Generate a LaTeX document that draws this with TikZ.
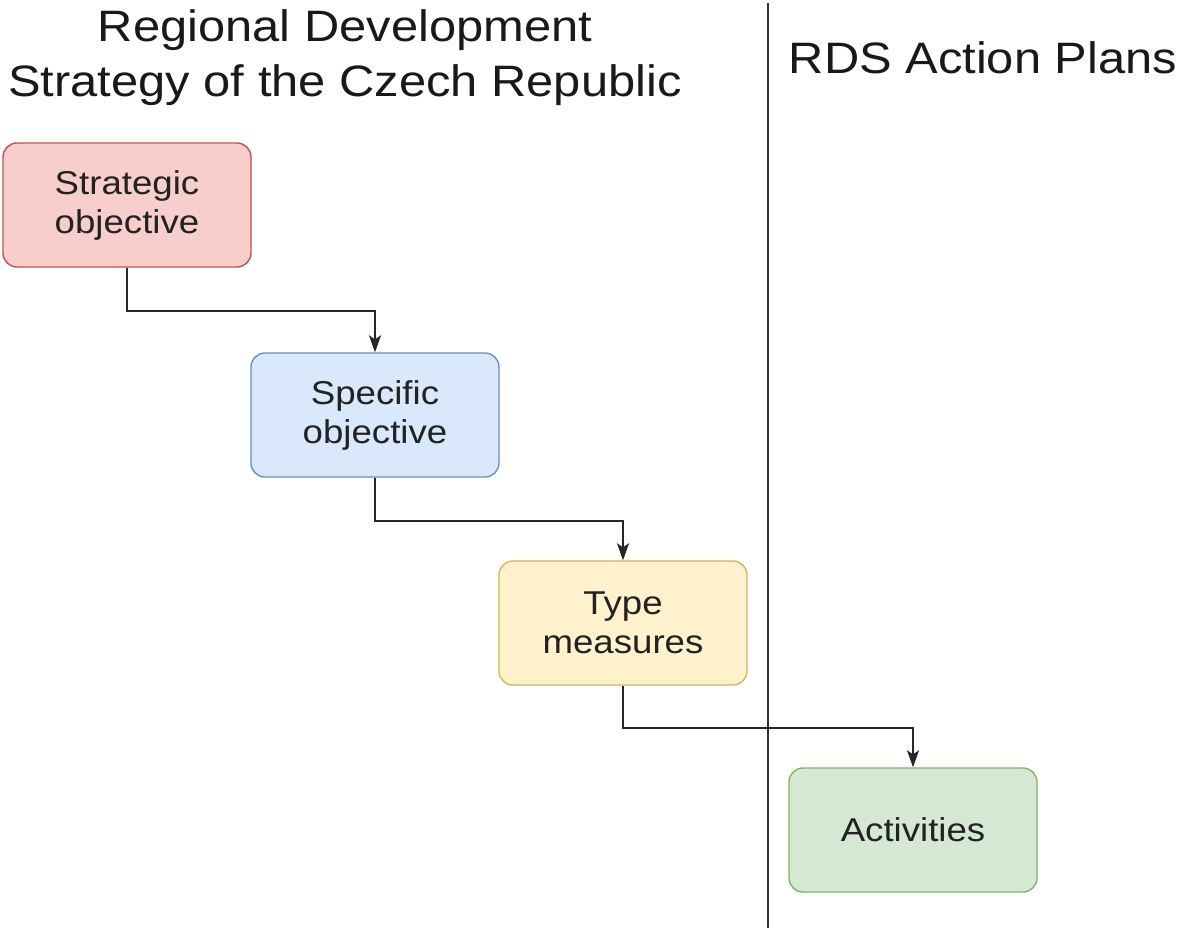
\documentclass[tikz,border=0pt]{standalone}
\usepackage{fontspec}
\setmainfont{Liberation Sans}[FakeStretch=1.11]
\usetikzlibrary{arrows.meta}
\definecolor{redfill}{HTML}{F8CECC}\definecolor{redline}{HTML}{B85450}
\definecolor{bluefill}{HTML}{DAE8FC}\definecolor{blueline}{HTML}{6C8EBF}
\definecolor{yellowfill}{HTML}{FFF2CC}\definecolor{yellowline}{HTML}{D6B656}
\definecolor{greenfill}{HTML}{D5E8D4}\definecolor{greenline}{HTML}{82B366}
\definecolor{ink}{HTML}{222222}
\begin{document}
\begin{tikzpicture}[x=1pt,y=-1pt,
  box/.style={draw, rounded corners=14pt, line width=1.4pt, minimum width=248pt,
    minimum height=124pt, align=center, text=ink, inner sep=0pt,
    font=\fontsize{33}{39}\selectfont},
  heading/.style={align=center, text=black!90, inner sep=0pt,
    font=\fontsize{44}{55}\selectfont},
  link/.style={draw=black!85, line width=1.7pt, -{Stealth[length=17pt,width=12pt,inset=4pt]}},
  divider/.style={draw=black!80, line width=1.4pt}]
\useasboundingbox (0,0) rectangle (1180,931);

% column headings
\node[heading] (hleft) at (345,58) {Regional Development\\Strategy of the Czech Republic};
\node[heading] (hright) at (983,58) {RDS Action Plans};

% column divider
\coordinate (dtop) at (768,3);
\coordinate (dbot) at (768,928);
\draw[divider] (dtop) -- (dbot);

% hierarchy boxes
\node[box, fill=redfill, draw=redline] (strat) at (127,205) {Strategic\\objective};
\node[box, fill=bluefill, draw=blueline] (spec) at (375,415) {Specific\\objective};
\node[box, fill=yellowfill, draw=yellowline] (type) at (623,623) {Type\\measures};
\node[box, fill=greenfill, draw=greenline] (act) at (913,830) {Activities};

% elbow connectors
\draw[link] (strat.south) -- ++(0,43) -| (spec.north);
\draw[link] (spec.south) -- ++(0,43) -| (type.north);
\draw[link] (type.south) -- ++(0,42) -| (act.north);
\end{tikzpicture}
\end{document}
